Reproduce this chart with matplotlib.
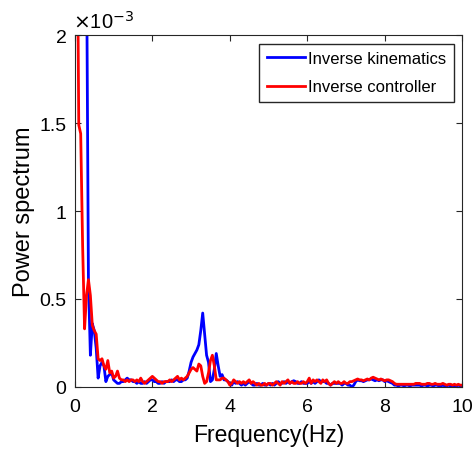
import numpy as np
import matplotlib.pyplot as plt

plt.rcParams['font.family'] = ['Liberation Sans', 'DejaVu Sans']

# frequency axis, 0.05 Hz steps
freq = np.arange(1, 201) * 0.05

# power spectrum, units of 1e-3
kin_0_1 = [4.0, 3.5, 3.0, 2.8, 2.6, 2.5, 0.60, 0.18, 0.36, 0.32, 0.22, 0.05, 0.12, 0.14, 0.12, 0.03, 0.06, 0.07, 0.08, 0.04]
kin_1_2 = [0.03, 0.02, 0.02, 0.03, 0.03, 0.04, 0.05, 0.04, 0.04, 0.03, 0.03, 0.02, 0.03, 0.02, 0.02, 0.03, 0.02, 0.03, 0.04, 0.04]
kin_2_3 = [0.03, 0.03, 0.02, 0.02, 0.03, 0.02, 0.03, 0.03, 0.03, 0.04, 0.03, 0.04, 0.04, 0.03, 0.03, 0.04, 0.04, 0.05, 0.09, 0.14]
kin_3_4 = [0.17, 0.19, 0.21, 0.24, 0.32, 0.42, 0.30, 0.18, 0.14, 0.03, 0.04, 0.10, 0.19, 0.12, 0.06, 0.07, 0.04, 0.04, 0.03, 0.02]
kin_4_5 = [0.01, 0.03, 0.02, 0.03, 0.02, 0.01, 0.02, 0.01, 0.02, 0.03, 0.02, 0.01, 0.01, 0.02, 0.01, 0.01, 0.02, 0.01, 0.01, 0.02]
kin_5_6 = [0.01, 0.02, 0.01, 0.02, 0.03, 0.02, 0.02, 0.03, 0.02, 0.03, 0.02, 0.03, 0.035, 0.03, 0.02, 0.02, 0.03, 0.02, 0.02, 0.02]
kin_6_7 = [0.03, 0.02, 0.03, 0.02, 0.03, 0.04, 0.03, 0.03, 0.03, 0.02, 0.02, 0.01, 0.02, 0.02, 0.02, 0.02, 0.02, 0.01, 0.02, 0.02]
kin_7_8 = [0.01, 0.01, 0.0, 0.01, 0.03, 0.04, 0.035, 0.035, 0.03, 0.035, 0.04, 0.04, 0.045, 0.04, 0.035, 0.04, 0.035, 0.04, 0.04, 0.03]
kin_8_9 = [0.035, 0.03, 0.025, 0.02, 0.01, 0.01, 0.005, 0.01, 0.01, 0.005, 0.01, 0.01, 0.005, 0.01, 0.01, 0.01, 0.01, 0.01, 0.005, 0.01]
kin_9_10 = [0.01, 0.005, 0.01, 0.01, 0.005, 0.01, 0.01, 0.005, 0.005, 0.01, 0.005, 0.005, 0.01, 0.005, 0.005, 0.005, 0.005, 0.01, 0.005, 0.005]

ctl_0_1 = [3.0, 1.49, 1.44, 0.80, 0.33, 0.52, 0.61, 0.52, 0.35, 0.32, 0.30, 0.16, 0.15, 0.16, 0.12, 0.10, 0.15, 0.08, 0.09, 0.05]
ctl_1_2 = [0.06, 0.09, 0.05, 0.04, 0.04, 0.03, 0.04, 0.03, 0.04, 0.04, 0.03, 0.04, 0.03, 0.05, 0.03, 0.02, 0.03, 0.04, 0.05, 0.06]
ctl_2_3 = [0.05, 0.04, 0.03, 0.03, 0.02, 0.03, 0.03, 0.03, 0.04, 0.03, 0.04, 0.05, 0.06, 0.04, 0.05, 0.04, 0.05, 0.06, 0.08, 0.10]
ctl_3_4 = [0.11, 0.10, 0.09, 0.13, 0.12, 0.06, 0.02, 0.03, 0.08, 0.15, 0.18, 0.12, 0.04, 0.04, 0.04, 0.05, 0.05, 0.04, 0.03, 0.01]
ctl_4_5 = [0.02, 0.04, 0.03, 0.02, 0.03, 0.02, 0.03, 0.02, 0.03, 0.04, 0.02, 0.03, 0.02, 0.01, 0.02, 0.01, 0.01, 0.02, 0.01, 0.02]
ctl_5_6 = [0.02, 0.01, 0.02, 0.03, 0.02, 0.01, 0.03, 0.02, 0.03, 0.04, 0.02, 0.03, 0.02, 0.02, 0.03, 0.02, 0.02, 0.03, 0.02, 0.03]
ctl_6_7 = [0.05, 0.02, 0.04, 0.03, 0.04, 0.03, 0.02, 0.04, 0.03, 0.04, 0.02, 0.01, 0.02, 0.03, 0.02, 0.03, 0.02, 0.02, 0.03, 0.02]
ctl_7_8 = [0.02, 0.03, 0.03, 0.035, 0.04, 0.045, 0.04, 0.04, 0.035, 0.04, 0.045, 0.04, 0.05, 0.055, 0.05, 0.045, 0.04, 0.045, 0.04, 0.035]
ctl_8_9 = [0.04, 0.04, 0.035, 0.03, 0.02, 0.015, 0.015, 0.015, 0.015, 0.015, 0.015, 0.015, 0.015, 0.015, 0.015, 0.02, 0.02, 0.02, 0.015, 0.015]
ctl_9_10 = [0.015, 0.02, 0.02, 0.015, 0.015, 0.02, 0.015, 0.015, 0.015, 0.02, 0.015, 0.01, 0.015, 0.015, 0.01, 0.015, 0.01, 0.015, 0.01, 0.01]

kinematics = np.array(kin_0_1 + kin_1_2 + kin_2_3 + kin_3_4 + kin_4_5 + kin_5_6 + kin_6_7 + kin_7_8 + kin_8_9 + kin_9_10)
controller = np.array(ctl_0_1 + ctl_1_2 + ctl_2_3 + ctl_3_4 + ctl_4_5 + ctl_5_6 + ctl_6_7 + ctl_7_8 + ctl_8_9 + ctl_9_10)

fig = plt.figure(figsize=(4.77, 4.64), dpi=100)
ax = fig.add_axes([0.157, 0.164, 0.812, 0.758])

ax.plot(freq, kinematics, color='#0000ff', lw=2.0, label='Inverse kinematics')
ax.plot(freq, controller, color='#ff0000', lw=2.0, label='Inverse controller')

ax.set_xlim(0, 10)
ax.set_ylim(0, 2)
ax.set_xticks([0, 2, 4, 6, 8, 10])
ax.set_yticks([0, 0.5, 1, 1.5, 2])
ax.set_yticklabels(['0', '0.5', '1', '1.5', '2'])
ax.tick_params(direction='in', top=True, right=True, labelsize=14, length=4, color='#262626')
ax.tick_params(axis='x', pad=8)
ax.tick_params(axis='y', pad=6)
for s in ax.spines.values():
    s.set_color('#262626')
    s.set_linewidth(0.8)

ax.set_xlabel('Frequency(Hz)', fontsize=16.5, labelpad=6)
ax.set_ylabel('Power spectrum', fontsize=17, labelpad=3)
ax.text(-0.005, 1.01, r'$\times$10$^{-3}$', transform=ax.transAxes, fontsize=14.5, va='bottom', ha='left')

ax.legend(loc='upper right', fontsize=12, fancybox=False, edgecolor='#262626',
          handlelength=2.3, handletextpad=0.2, borderaxespad=0.5, borderpad=0.45,
          labelspacing=0.8, framealpha=1)

fig.savefig('out.png', dpi=100)
